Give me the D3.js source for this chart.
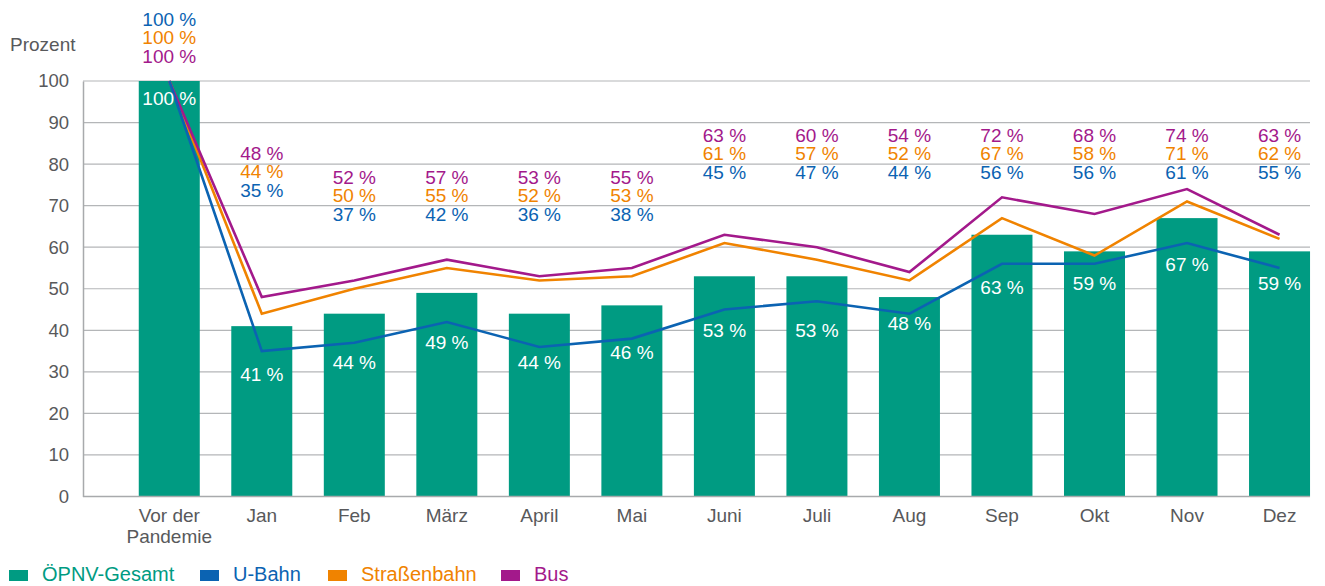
<!DOCTYPE html>
<html>
<head>
<meta charset="utf-8">
<script src="https://cdn.jsdelivr.net/npm/d3@7"></script>
<style>
  body { margin: 0; background: #fff; }
  text { font-family: "Liberation Sans", Arial, sans-serif; }
</style>
</head>
<body>
<div id="chart"></div>
<script>
var categories = ['Vor der Pandemie', 'Jan', 'Feb', 'März', 'April', 'Mai', 'Juni', 'Juli', 'Aug', 'Sep', 'Okt', 'Nov', 'Dez'];
var gesamt = [100, 41, 44, 49, 44, 46, 53, 53, 48, 63, 59, 67, 59];
var ubahn  = [100, 35, 37, 42, 36, 38, 45, 47, 44, 56, 56, 61, 55];
var strab  = [100, 44, 50, 55, 52, 53, 61, 57, 52, 67, 58, 71, 62];
var bus    = [100, 48, 52, 57, 53, 55, 63, 60, 54, 72, 68, 74, 63];
var yTicks = [0, 10, 20, 30, 40, 50, 60, 70, 80, 90, 100];

// label placement (pixel centres)
var lineLabelTop = [19, 153, 177, 177, 177, 177, 135, 135, 135, 135, 135, 135, 135];
var barLabelY = [98, 374, 362, 342, 362, 352, 330, 330, 323, 287, 283, 264, 283];

var colors = {gesamt: '#009b82', ubahn: '#0b63b2', strab: '#f08300', bus: '#a3198b'};

var width = 1325, height = 586;
var plotLeft = 83, plotRight = 1310;

var svg = d3.select('#chart')
    .append('svg')
    .attr('width', width)
    .attr('height', height);

var x = d3.scaleBand()
    .domain(categories)
    .range([123, 1325.8])
    .padding(0);
var barW = 61;
var cx = function(d, i) { return x(categories[i]) + x.bandwidth() / 2; };

var y = d3.scaleLinear().domain([0, 100]).range([496.5, 81]);

// gridlines
svg.append('g')
    .selectAll('line')
    .data(yTicks.slice(1))
    .enter().append('line')
    .attr('x1', plotLeft)
    .attr('x2', plotRight)
    .attr('y1', function(d) { return y(d); })
    .attr('y2', function(d) { return y(d); })
    .attr('stroke', '#b4b6b8')
    .attr('stroke-width', 1.2);

// y axis
var yAxis = svg.append('g')
    .attr('transform', 'translate(' + plotLeft + ',0)')
    .call(d3.axisLeft(y).tickValues(yTicks).tickSize(0).tickPadding(14));
yAxis.select('.domain').attr('stroke', '#a8aaac').attr('stroke-width', 1.5);
yAxis.selectAll('text')
    .attr('fill', '#58595b')
    .style('font-size', '18.5px')
    .style('font-family', '"Liberation Sans", Arial, sans-serif');

svg.append('text')
    .attr('x', 10)
    .attr('y', 51)
    .attr('fill', '#58595b')
    .style('font-size', '19px')
    .text('Prozent');

// bars
svg.append('g')
    .selectAll('rect')
    .data(gesamt)
    .enter().append('rect')
    .attr('x', function(d, i) { return cx(d, i) - barW / 2; })
    .attr('y', function(d) { return y(d); })
    .attr('width', barW)
    .attr('height', function(d) { return y(0) - y(d); })
    .attr('fill', colors.gesamt);

// x axis
var xAxis = svg.append('g')
    .attr('transform', 'translate(0,' + y(0) + ')')
    .call(d3.axisBottom(x).tickSize(0).tickSizeOuter(0).tickFormat(''));
xAxis.select('.domain').attr('stroke', '#a8aaac').attr('stroke-width', 1.5)
    .attr('d', 'M' + plotLeft + ',0H' + plotRight);

var xl = svg.append('g');
categories.forEach(function(c, i) {
  var t = xl.append('text')
      .attr('x', cx(null, i))
      .attr('y', 522)
      .attr('text-anchor', 'middle')
      .attr('fill', '#58595b')
      .style('font-size', '19px');
  if (c === 'Vor der Pandemie') {
    t.append('tspan').attr('x', cx(null, i)).attr('dy', 0).text('Vor der');
    t.append('tspan').attr('x', cx(null, i)).attr('dy', 21).text('Pandemie');
  } else {
    t.text(c);
  }
});

// lines
var series = [
  {key: 'strab', values: strab},
  {key: 'bus', values: bus},
  {key: 'ubahn', values: ubahn}
];
var line = d3.line()
    .x(function(d, i) { return cx(d, i); })
    .y(function(d) { return y(d); });

series.forEach(function(s) {
  svg.append('path')
      .datum(s.values)
      .attr('d', line)
      .attr('fill', 'none')
      .attr('stroke', colors[s.key])
      .attr('stroke-width', 2.6)
      .attr('stroke-linejoin', 'miter');
});

// bar labels
svg.append('g')
    .selectAll('text')
    .data(gesamt)
    .enter().append('text')
    .attr('x', function(d, i) { return cx(d, i); })
    .attr('y', function(d, i) { return barLabelY[i]; })
    .attr('dy', '0.35em')
    .attr('text-anchor', 'middle')
    .attr('fill', '#ffffff')
    .style('font-size', '19px')
    .text(function(d) { return d + ' %'; });

// line labels (stacked)
var lg = svg.append('g');
categories.forEach(function(c, i) {
  var order = i === 0 ? ['ubahn', 'strab', 'bus'] : ['bus', 'strab', 'ubahn'];
  var vals = {ubahn: ubahn[i], strab: strab[i], bus: bus[i]};
  order.forEach(function(k, j) {
    lg.append('text')
        .attr('x', cx(null, i))
        .attr('y', lineLabelTop[i] + j * 18.7)
        .attr('dy', '0.35em')
        .attr('text-anchor', 'middle')
        .attr('fill', colors[k])
        .style('font-size', '19px')
        .text(vals[k] + ' %');
  });
});

// legend
var legendItems = [
  {label: 'ÖPNV-Gesamt', key: 'gesamt', x: 9},
  {label: 'U-Bahn', key: 'ubahn', x: 200},
  {label: 'Straßenbahn', key: 'strab', x: 328},
  {label: 'Bus', key: 'bus', x: 501}
];
var leg = svg.append('g');
legendItems.forEach(function(d) {
  leg.append('rect')
      .attr('x', d.x)
      .attr('y', 570)
      .attr('width', 19)
      .attr('height', 11)
      .attr('fill', colors[d.key]);
  leg.append('text')
      .attr('x', d.x + 33)
      .attr('y', 581)
      .attr('fill', colors[d.key])
      .style('font-size', '20px')
      .text(d.label);
});
</script>
</body>
</html>
